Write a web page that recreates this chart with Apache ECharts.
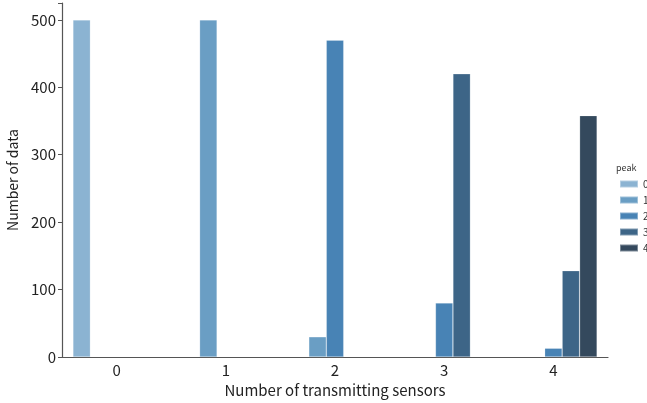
<!DOCTYPE html>
<html>
<head>
<meta charset="utf-8">
<script src="https://cdn.jsdelivr.net/npm/echarts@6/dist/echarts.min.js"></script>
<style>
html,body{margin:0;padding:0;background:#fff}
#main{width:647px;height:403px}
</style>
</head>
<body>
<div id="main"></div>
<script>
var categories = ['0', '1', '2', '3', '4']
var peakNames = ['0', '1', '2', '3', '4']
// one array per hue level (peak), null where no bar
var peak0 = [500, null, null, null, null]
var peak1 = [null, 500, 30, null, null]
var peak2 = [null, null, 470, 80, 13]
var peak3 = [null, null, null, 420, 128]
var peak4 = [null, null, null, null, 358]
var peakColors = ['#8bb3d2', '#6a9ec4', '#4883b5', '#3d6587', '#34495d']

var chart = echarts.init(document.getElementById('main'))
var font = '"Noto Sans CJK JP", "Noto Sans", sans-serif'
var values = [peak0, peak1, peak2, peak3, peak4]

var series = []
for (var i = 0; i < values.length; i++) {
	series.push({
		name: peakNames[i],
		type: 'bar',
		data: values[i],
		barGap: '0%',
		barCategoryGap: '20%',
		itemStyle: {color: peakColors[i], borderColor: 'rgba(255,255,255,0.35)', borderWidth: 0.6}
	})
}

var option = {
	animation: false,
	textStyle: {fontFamily: font},
	title: {
		text: 'peak',
		left: 611,
		top: 158,
		textStyle: {fontSize: 9, fontWeight: 'normal', color: '#333', fontFamily: font}
	},
	legend: {
		orient: 'vertical',
		left: 614,
		top: 174,
		itemWidth: 18,
		itemHeight: 7,
		itemGap: 6,
		icon: 'rect',
		textStyle: {fontSize: 10, color: '#333', fontFamily: font},
		data: peakNames
	},
	grid: {left: 62, right: 39, top: 3, bottom: 46, outerBoundsMode: 'none'},
	xAxis: {
		type: 'category',
		data: categories,
		name: 'Number of transmitting sensors',
		nameLocation: 'middle',
		nameGap: 24,
		nameTextStyle: {fontSize: 15, color: '#222', fontFamily: font},
		axisLine: {lineStyle: {color: '#555', width: 1.2}},
		axisTick: {alignWithLabel: true, length: 4, lineStyle: {color: '#555'}},
		axisLabel: {fontSize: 15, color: '#222', margin: 6, fontFamily: font}
	},
	yAxis: {
		type: 'value',
		min: 0,
		max: 525,
		interval: 100,
		name: 'Number of data',
		nameLocation: 'middle',
		nameGap: 40,
		nameTextStyle: {fontSize: 14, color: '#222', fontFamily: font},
		axisLine: {show: true, lineStyle: {color: '#555', width: 1.2}},
		axisTick: {show: true, length: 4, lineStyle: {color: '#555'}},
		axisLabel: {fontSize: 15, color: '#222', margin: 6, fontFamily: font,
			formatter: function(v){ return v % 100 === 0 ? v : '' }},
		splitLine: {show: false}
	},
	series: series
}

chart.setOption(option)
</script>
</body>
</html>
